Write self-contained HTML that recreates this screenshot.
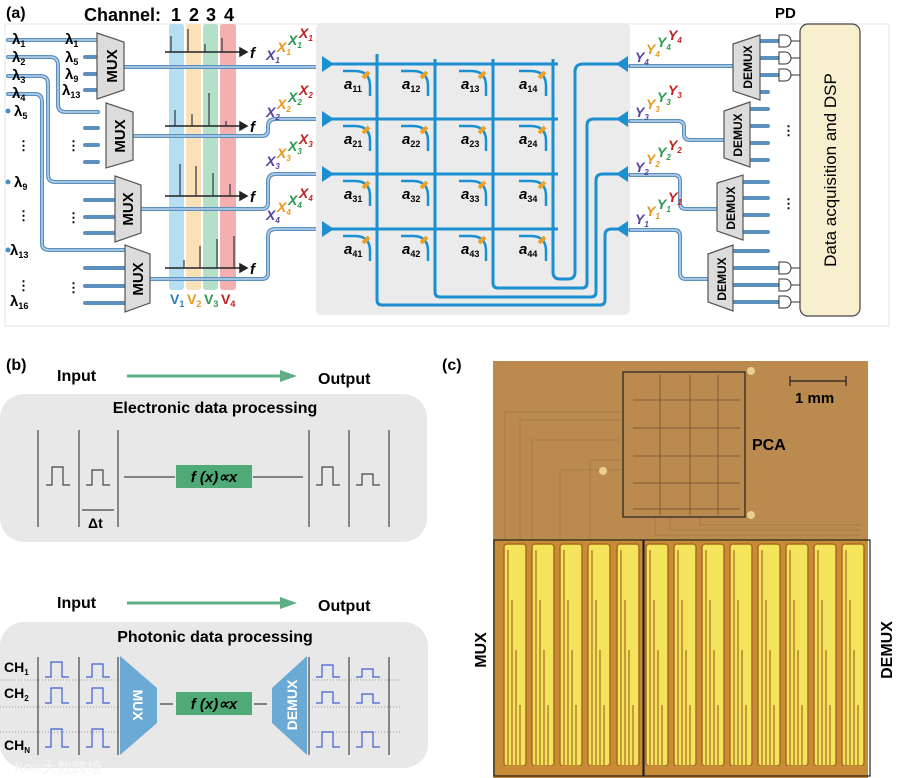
<!DOCTYPE html>
<html><head><meta charset="utf-8"><style>
body{margin:0;background:#fff}
svg{display:block;font-family:"Liberation Sans",Arial,sans-serif;font-weight:bold}
</style></head><body>
<svg width="898" height="778" viewBox="0 0 898 778" xmlns="http://www.w3.org/2000/svg">
<!-- panel a frame -->
<rect x="5" y="24" width="884" height="302" fill="#fff" stroke="#e4e4e4"/>
<text x="6" y="18" font-size="16">(a)</text>
<text x="84" y="21" font-size="18">Channel:</text>
<g font-size="18" text-anchor="middle"><text x="176" y="21">1</text><text x="194" y="21">2</text><text x="211" y="21">3</text><text x="229" y="21">4</text></g>
<text x="775" y="18" font-size="15">PD</text>
<!-- color bands -->
<rect x="169" y="24" width="15" height="266" rx="3" fill="#b5dff0"/>
<rect x="186" y="24" width="15" height="266" rx="3" fill="#fbe1b8"/>
<rect x="203" y="24" width="15" height="266" rx="3" fill="#b5e0c8"/>
<rect x="220" y="24" width="16" height="266" rx="3" fill="#f4b0b0"/>
<g font-size="14"><text x="170" y="304" fill="#2a7fc0">V<tspan font-size="9" dy="3">1</tspan></text>
<text x="187" y="304" fill="#e8961e">V<tspan font-size="9" dy="3">2</tspan></text>
<text x="204" y="304" fill="#2a9a50">V<tspan font-size="9" dy="3">3</tspan></text>
<text x="221" y="304" fill="#c02020">V<tspan font-size="9" dy="3">4</tspan></text></g>
<!-- spectra -->
<g stroke="#222" stroke-width="1.5" fill="#222">
<line x1="165" y1="52" x2="240" y2="52"/><path d="M240 48 L247 52 L240 56Z"/>
<line x1="165" y1="126" x2="240" y2="126"/><path d="M240 122 L247 126 L240 130Z"/>
<line x1="165" y1="196" x2="240" y2="196"/><path d="M240 192 L247 196 L240 200Z"/>
<line x1="165" y1="268" x2="240" y2="268"/><path d="M240 264 L247 268 L240 272Z"/>
</g>
<g stroke="#334" stroke-width="1.2">
<line x1="171" y1="52" x2="171" y2="36"/><line x1="188" y1="52" x2="188" y2="29"/><line x1="205" y1="52" x2="205" y2="44"/><line x1="222" y1="52" x2="222" y2="38"/>
<line x1="175" y1="126" x2="175" y2="110"/><line x1="192" y1="126" x2="192" y2="114"/><line x1="209" y1="126" x2="209" y2="93"/><line x1="226" y1="126" x2="226" y2="121"/>
<line x1="180" y1="196" x2="180" y2="164"/><line x1="196" y1="196" x2="196" y2="166"/><line x1="213" y1="196" x2="213" y2="173"/><line x1="230" y1="196" x2="230" y2="184"/>
<line x1="184" y1="268" x2="184" y2="260"/><line x1="200" y1="268" x2="200" y2="246"/><line x1="217" y1="268" x2="217" y2="239"/><line x1="234" y1="268" x2="234" y2="236"/>
</g>
<g font-size="15" font-style="italic"><text x="250" y="58">f</text><text x="250" y="132">f</text><text x="250" y="202">f</text><text x="250" y="274">f</text></g>

<!-- input waveguides -->
<g fill="none" stroke="#5b8fbe" stroke-width="4" stroke-linecap="round">
<path d="M8 40 H97"/>
<path d="M8 57 H50 Q58 57 58 65 V105 Q58 112 66 112 H98"/>
<path d="M8 76 H40 Q48 76 48 84 V175 Q48 182 56 182 H115"/>
<path d="M8 94 H35 Q42 94 42 102 V244 Q42 250 50 250 H125"/>
<path d="M85 57 H97 M85 74 H97 M85 90 H97"/>
<path d="M85 128 H98 M85 145 H98 M85 162 H98"/>
<path d="M85 200 H115 M85 217 H115 M85 233 H115"/>
<path d="M85 268 H125 M85 286 H125 M85 303 H125"/>
<path d="M124 67 H322"/>
<path d="M133 136 H262 Q268 136 268 130 V126 Q268 119 276 119 H322"/>
<path d="M141 209 H262 Q268 209 268 203 V182 Q268 174 276 174 H322"/>
<path d="M150 279 H262 Q268 279 268 273 V236 Q268 229 276 229 H322"/>
</g>
<g fill="none" stroke="#b9d6ee" stroke-width="1.5" stroke-linecap="round">
<path d="M8 40 H97"/><path d="M8 57 H50 Q58 57 58 65 V105 Q58 112 66 112 H98"/>
<path d="M8 76 H40 Q48 76 48 84 V175 Q48 182 56 182 H115"/><path d="M8 94 H35 Q42 94 42 102 V244 Q42 250 50 250 H125"/>
<path d="M124 67 H322"/><path d="M133 136 H262 Q268 136 268 130 V126 Q268 119 276 119 H322"/>
<path d="M141 209 H262 Q268 209 268 203 V182 Q268 174 276 174 H322"/><path d="M150 279 H262 Q268 279 268 273 V236 Q268 229 276 229 H322"/>
</g>
<g fill="#4a90c8"><circle cx="8" cy="111" r="2.5"/><circle cx="8" cy="182" r="2.5"/><circle cx="8" cy="250" r="2.5"/></g>
<g font-size="15"><text x="12" y="44">λ<tspan font-size="9" dy="3">1</tspan></text>
<text x="12" y="62">λ<tspan font-size="9" dy="3">2</tspan></text>
<text x="12" y="80">λ<tspan font-size="9" dy="3">3</tspan></text>
<text x="12" y="98">λ<tspan font-size="9" dy="3">4</tspan></text>
<text x="14" y="116">λ<tspan font-size="9" dy="3">5</tspan></text>
<text x="14" y="187">λ<tspan font-size="9" dy="3">9</tspan></text>
<text x="10" y="255">λ<tspan font-size="9" dy="3">13</tspan></text>
<text x="10" y="306">λ<tspan font-size="9" dy="3">16</tspan></text>
<text x="65" y="44">λ<tspan font-size="9" dy="3">1</tspan></text>
<text x="65" y="62">λ<tspan font-size="9" dy="3">5</tspan></text>
<text x="65" y="79">λ<tspan font-size="9" dy="3">9</tspan></text>
<text x="62" y="95">λ<tspan font-size="9" dy="3">13</tspan></text></g>
<g font-size="13"><text x="17" y="150">⋮</text><text x="17" y="220">⋮</text><text x="17" y="290">⋮</text>
<text x="67" y="150">⋮</text><text x="67" y="222">⋮</text><text x="67" y="292">⋮</text></g>
<!-- MUX -->
<g fill="#dcdcdc" stroke="#555" stroke-width="1.2">
<path d="M97 33 L124 42 L124 90 L97 99Z"/>
<path d="M106 103 L133 112 L133 160 L106 168Z"/>
<path d="M115 176 L141 185 L141 233 L115 242Z"/>
<path d="M125 245 L150 254 L150 303 L125 312Z"/>
</g>
<g font-size="15"><text transform="translate(117 66) rotate(-90)" text-anchor="middle">MUX</text>
<text transform="translate(125 136) rotate(-90)" text-anchor="middle">MUX</text>
<text transform="translate(133 209) rotate(-90)" text-anchor="middle">MUX</text>
<text transform="translate(143 279) rotate(-90)" text-anchor="middle">MUX</text></g>
<!-- X labels -->
<g font-size="14" font-style="italic">
<text x="266" y="60" fill="#5a3fa0">X<tspan font-size="8" dy="3">1</tspan></text><text x="277" y="52" fill="#e8961e">X<tspan font-size="8" dy="3">1</tspan></text><text x="288" y="45" fill="#2a9a50">X<tspan font-size="8" dy="3">1</tspan></text><text x="299" y="38" fill="#c02020">X<tspan font-size="8" dy="3">1</tspan></text>
<text x="266" y="117" fill="#5a3fa0">X<tspan font-size="8" dy="3">2</tspan></text><text x="277" y="109" fill="#e8961e">X<tspan font-size="8" dy="3">2</tspan></text><text x="288" y="102" fill="#2a9a50">X<tspan font-size="8" dy="3">2</tspan></text><text x="299" y="95" fill="#c02020">X<tspan font-size="8" dy="3">2</tspan></text>
<text x="266" y="166" fill="#5a3fa0">X<tspan font-size="8" dy="3">3</tspan></text><text x="277" y="158" fill="#e8961e">X<tspan font-size="8" dy="3">3</tspan></text><text x="288" y="151" fill="#2a9a50">X<tspan font-size="8" dy="3">3</tspan></text><text x="299" y="144" fill="#c02020">X<tspan font-size="8" dy="3">3</tspan></text>
<text x="266" y="220" fill="#5a3fa0">X<tspan font-size="8" dy="3">4</tspan></text><text x="277" y="212" fill="#e8961e">X<tspan font-size="8" dy="3">4</tspan></text><text x="288" y="205" fill="#2a9a50">X<tspan font-size="8" dy="3">4</tspan></text><text x="299" y="198" fill="#c02020">X<tspan font-size="8" dy="3">4</tspan></text>
</g>
<!-- grid box -->
<rect x="316" y="23" width="314" height="292" rx="6" fill="#ebebeb"/>
<g fill="none" stroke="#1b8fcf" stroke-width="3">
<path d="M322 64 H558 M322 119 H558 M322 174 H558 M322 229 H558"/>
<path d="M377 54 V300 Q377 305 382 305 H600 Q605 305 605 300 V235 Q605 229 612 229 H622"/>
<path d="M435 59 V292 Q435 297 440 297 H591 Q596 297 596 292 V180 Q596 174 603 174 H622"/>
<path d="M493 59 V283 Q493 288 498 288 H582 Q587 288 587 283 V125 Q587 119 594 119 H622"/>
<path d="M553 59 V272 Q553 279 560 279 H568 Q575 279 575 272 V72 Q575 64 583 64 H622"/>
</g>
<g fill="#1b8fcf">
<path d="M322 56 L334 64 L322 72Z"/><path d="M322 111 L334 119 L322 127Z"/><path d="M322 166 L334 174 L322 182Z"/><path d="M322 221 L334 229 L322 237Z"/>
<path d="M628 56 L616 64 L628 72Z"/><path d="M628 111 L616 119 L628 127Z"/><path d="M628 166 L616 174 L628 182Z"/><path d="M628 221 L616 229 L628 237Z"/>
</g>
<!-- couplers -->
<g fill="none" stroke="#1b8fcf" stroke-width="2.5">
<path d="M343 71 H355 Q370 71 370 86 V96"/><path d="M401 71 H413 Q428 71 428 86 V96"/><path d="M459 71 H471 Q486 71 486 86 V96"/><path d="M519 71 H531 Q546 71 546 86 V96"/>
<path d="M343 126 H355 Q370 126 370 141 V151"/><path d="M401 126 H413 Q428 126 428 141 V151"/><path d="M459 126 H471 Q486 126 486 141 V151"/><path d="M519 126 H531 Q546 126 546 141 V151"/>
<path d="M343 181 H355 Q370 181 370 196 V206"/><path d="M401 181 H413 Q428 181 428 196 V206"/><path d="M459 181 H471 Q486 181 486 196 V206"/><path d="M519 181 H531 Q546 181 546 196 V206"/>
<path d="M343 236 H355 Q370 236 370 251 V261"/><path d="M401 236 H413 Q428 236 428 251 V261"/><path d="M459 236 H471 Q486 236 486 251 V261"/><path d="M519 236 H531 Q546 236 546 251 V261"/>
</g>
<g stroke="#f0a020" stroke-width="4">
<path d="M363 78 L369 72"/><path d="M421 78 L427 72"/><path d="M479 78 L485 72"/><path d="M539 78 L545 72"/>
<path d="M363 133 L369 127"/><path d="M421 133 L427 127"/><path d="M479 133 L485 127"/><path d="M539 133 L545 127"/>
<path d="M363 188 L369 182"/><path d="M421 188 L427 182"/><path d="M479 188 L485 182"/><path d="M539 188 L545 182"/>
<path d="M363 243 L369 237"/><path d="M421 243 L427 237"/><path d="M479 243 L485 237"/><path d="M539 243 L545 237"/>
</g>
<g font-size="15" font-style="italic">
<text x="344" y="89">a<tspan font-size="9" dy="3" font-style="normal">11</tspan></text><text x="402" y="89">a<tspan font-size="9" dy="3" font-style="normal">12</tspan></text><text x="461" y="89">a<tspan font-size="9" dy="3" font-style="normal">13</tspan></text><text x="519" y="89">a<tspan font-size="9" dy="3" font-style="normal">14</tspan></text>
<text x="344" y="144">a<tspan font-size="9" dy="3" font-style="normal">21</tspan></text><text x="402" y="144">a<tspan font-size="9" dy="3" font-style="normal">22</tspan></text><text x="461" y="144">a<tspan font-size="9" dy="3" font-style="normal">23</tspan></text><text x="519" y="144">a<tspan font-size="9" dy="3" font-style="normal">24</tspan></text>
<text x="344" y="199">a<tspan font-size="9" dy="3" font-style="normal">31</tspan></text><text x="402" y="199">a<tspan font-size="9" dy="3" font-style="normal">32</tspan></text><text x="461" y="199">a<tspan font-size="9" dy="3" font-style="normal">33</tspan></text><text x="519" y="199">a<tspan font-size="9" dy="3" font-style="normal">34</tspan></text>
<text x="344" y="254">a<tspan font-size="9" dy="3" font-style="normal">41</tspan></text><text x="402" y="254">a<tspan font-size="9" dy="3" font-style="normal">42</tspan></text><text x="461" y="254">a<tspan font-size="9" dy="3" font-style="normal">43</tspan></text><text x="519" y="254">a<tspan font-size="9" dy="3" font-style="normal">44</tspan></text>
</g>
<!-- output waveguides -->
<g fill="none" stroke="#5b8fbe" stroke-width="4" stroke-linecap="round">
<path d="M630 66 H735"/>
<path d="M630 121 H678 Q684 121 684 127 V134 Q684 140 690 140 H724"/>
<path d="M630 175 H674 Q680 175 680 181 V203 Q680 209 686 209 H717"/>
<path d="M630 230 H674 Q680 230 680 236 V273 Q680 279 686 279 H708"/>
<path d="M760 41 H780 M760 58 H780 M760 75 H780 M760 92 H768"/>
<path d="M750 109 H768 M750 126 H768 M750 143 H768 M750 160 H768"/>
<path d="M743 182 H768 M743 198 H768 M743 215 H768 M743 232 H768"/>
<path d="M733 251 H768 M733 268 H780 M733 285 H780 M733 302 H780"/>
</g>
<g fill="none" stroke="#b9d6ee" stroke-width="1.5">
<path d="M630 66 H735"/><path d="M630 121 H678 Q684 121 684 127 V134 Q684 140 690 140 H724"/>
<path d="M630 175 H674 Q680 175 680 181 V203 Q680 209 686 209 H717"/><path d="M630 230 H674 Q680 230 680 236 V273 Q680 279 686 279 H708"/>
</g>
<g fill="#dcdcdc" stroke="#555" stroke-width="1.2">
<path d="M733 44 L760 35 L760 100 L733 91Z"/>
<path d="M724 111 L750 102 L750 167 L724 158Z"/>
<path d="M717 183 L743 175 L743 240 L717 231Z"/>
<path d="M708 254 L733 245 L733 311 L708 302Z"/>
</g>
<g font-size="12"><text transform="translate(752 67) rotate(-90)" text-anchor="middle">DEMUX</text>
<text transform="translate(742 135) rotate(-90)" text-anchor="middle">DEMUX</text>
<text transform="translate(735 208) rotate(-90)" text-anchor="middle">DEMUX</text>
<text transform="translate(726 279) rotate(-90)" text-anchor="middle">DEMUX</text></g>
<g fill="#fff" stroke="#333" stroke-width="1">
<path d="M779 35 H785 A6 6 0 0 1 785 47 H779Z"/><path d="M779 52 H785 A6 6 0 0 1 785 64 H779Z"/><path d="M779 69 H785 A6 6 0 0 1 785 81 H779Z"/>
<path d="M779 262 H785 A6 6 0 0 1 785 274 H779Z"/><path d="M779 279 H785 A6 6 0 0 1 785 291 H779Z"/><path d="M779 296 H785 A6 6 0 0 1 785 308 H779Z"/>
</g>
<g stroke="#333"><path d="M791 41 H800 M791 58 H800 M791 75 H800 M791 268 H800 M791 285 H800 M791 302 H800"/></g>
<g font-size="13"><text x="782" y="135">⋮</text><text x="782" y="208">⋮</text></g>
<rect x="800" y="24" width="60" height="292" rx="8" fill="#f8efcf" stroke="#444" stroke-width="1.2"/>
<text transform="translate(836 170) rotate(-90)" text-anchor="middle" font-size="17" font-weight="normal">Data acquisition and DSP</text>
<g font-size="14" font-style="italic">
<text x="635" y="62" fill="#5a3fa0">Y<tspan font-size="8" dy="3">4</tspan></text><text x="646" y="54" fill="#e8961e">Y<tspan font-size="8" dy="3">4</tspan></text><text x="657" y="47" fill="#2a9a50">Y<tspan font-size="8" dy="3">4</tspan></text><text x="668" y="40" fill="#c02020">Y<tspan font-size="8" dy="3">4</tspan></text>
<text x="635" y="117" fill="#5a3fa0">Y<tspan font-size="8" dy="3">3</tspan></text><text x="646" y="109" fill="#e8961e">Y<tspan font-size="8" dy="3">3</tspan></text><text x="657" y="102" fill="#2a9a50">Y<tspan font-size="8" dy="3">3</tspan></text><text x="668" y="95" fill="#c02020">Y<tspan font-size="8" dy="3">3</tspan></text>
<text x="635" y="172" fill="#5a3fa0">Y<tspan font-size="8" dy="3">2</tspan></text><text x="646" y="164" fill="#e8961e">Y<tspan font-size="8" dy="3">2</tspan></text><text x="657" y="157" fill="#2a9a50">Y<tspan font-size="8" dy="3">2</tspan></text><text x="668" y="150" fill="#c02020">Y<tspan font-size="8" dy="3">2</tspan></text>
<text x="635" y="224" fill="#5a3fa0">Y<tspan font-size="8" dy="3">1</tspan></text><text x="646" y="216" fill="#e8961e">Y<tspan font-size="8" dy="3">1</tspan></text><text x="657" y="209" fill="#2a9a50">Y<tspan font-size="8" dy="3">1</tspan></text><text x="668" y="202" fill="#c02020">Y<tspan font-size="8" dy="3">1</tspan></text>
</g>

<!-- panel b -->
<text x="6" y="370" font-size="16">(b)</text>
<text x="57" y="381" font-size="16">Input</text>
<text x="318" y="384" font-size="16">Output</text>
<path d="M127 376 H285" stroke="#5fae86" stroke-width="3"/><path d="M280 370 L297 376 L280 382Z" fill="#5fae86"/>
<rect x="0" y="394" width="427" height="148" rx="24" fill="#e8e8e8"/>
<text x="215" y="413" font-size="16" text-anchor="middle">Electronic data processing</text>
<g stroke="#444" stroke-width="1.2" fill="none">
<path d="M38 430 V527 M79 430 V527 M118 430 V527 M309 430 V527 M349 430 V527 M389 430 V527"/>
<path d="M46 485 H52 V467 H63 V485 H70"/><path d="M86 485 H92 V470 H103 V485 H110"/>
<path d="M316 485 H322 V467 H333 V485 H340"/><path d="M356 485 H362 V474 H373 V485 H380"/>
<path d="M82 510 H114"/>
<path d="M124 477 H175 M253 477 H303"/>
</g>
<text x="88" y="528" font-size="14">Δt</text>
<rect x="176" y="465" width="76" height="23" fill="#4faa78"/>
<text x="214" y="482" font-size="15" text-anchor="middle" font-style="italic">f (x)∝x</text>

<text x="57" y="608" font-size="16">Input</text>
<text x="318" y="611" font-size="16">Output</text>
<path d="M127 603 H285" stroke="#5fae86" stroke-width="3"/><path d="M280 597 L297 603 L280 609Z" fill="#5fae86"/>
<rect x="0" y="622" width="428" height="146" rx="24" fill="#e8e8e8"/>
<text x="215" y="642" font-size="16" text-anchor="middle">Photonic data processing</text>
<g stroke="#999" stroke-dasharray="1 2"><path d="M0 680 H118 M0 707 H118 M0 732 H118 M309 680 H400 M309 707 H400 M309 732 H400"/></g>
<g stroke="#444" stroke-width="1.2"><path d="M38 657 V755 M79 657 V755 M118 657 V755 M309 657 V755 M349 657 V755 M389 657 V755 M160 704 H173 M254 704 H267"/></g>
<g fill="none" stroke="#3d5fd0" stroke-width="1.2">
<path d="M45 677 H51 V662 H62 V677 H69"/><path d="M86 677 H92 V664 H103 V677 H110"/>
<path d="M45 703 H51 V688 H62 V703 H69"/><path d="M86 703 H92 V688 H103 V703 H110"/>
<path d="M45 747 H51 V729 H62 V747 H69"/><path d="M86 747 H92 V729 H103 V747 H110"/>
<path d="M316 677 H322 V665 H333 V677 H340"/><path d="M356 677 H362 V669 H373 V677 H380"/>
<path d="M316 703 H322 V692 H333 V703 H340"/><path d="M356 703 H362 V694 H373 V703 H380"/>
<path d="M316 747 H322 V732 H333 V747 H340"/><path d="M356 747 H362 V732 H373 V747 H380"/>
</g>
<g font-size="14"><text x="4" y="672">CH<tspan font-size="8" dy="3">1</tspan></text><text x="4" y="698">CH<tspan font-size="8" dy="3">2</tspan></text><text x="4" y="750">CH<tspan font-size="8" dy="3">N</tspan></text></g>
<path d="M120 656 L157 688 L157 723 L120 755Z" fill="#6aaad4"/>
<path d="M307 656 L272 688 L272 723 L307 755Z" fill="#6aaad4"/>
<text transform="translate(133 705) rotate(90)" text-anchor="middle" font-size="14" fill="#fff">MUX</text>
<text transform="translate(297 705) rotate(-90)" text-anchor="middle" font-size="14" fill="#fff">DEMUX</text>
<rect x="176" y="692" width="76" height="23" fill="#4faa78"/>
<text x="214" y="709" font-size="15" text-anchor="middle" font-style="italic">f (x)∝x</text>
<text x="14" y="773" font-size="15" fill="#f4f4f4" font-weight="normal" font-family="'Noto Sans CJK SC',sans-serif">K∞ 大数跨境</text>

<!-- panel c -->
<text x="442" y="370" font-size="16">(c)</text>
<rect x="493" y="361" width="375" height="417" fill="#ba8a4e"/>
<rect x="493" y="540" width="375" height="238" fill="#c98c36"/>
<g fill="none" stroke="#a87a45" stroke-width="1">
<path d="M505 540 V412 H620 M520 540 V420 H620 M532 540 V440 H620 M560 540 V470 H620 M590 540 V460 H620"/>
<path d="M655 517 V535 H860 M670 517 V530 H860 M700 517 V525 H860"/>
</g>
<g stroke="#5a3a20" stroke-width="1" opacity="0.6">
<path d="M633 400 H740 M633 428 H740 M633 456 H740 M633 483 H740 M633 509 H740"/>
<path d="M660 375 V515 M690 375 V515 M718 375 V515"/>
</g>
<g fill="#e8d090"><circle cx="751" cy="371" r="4"/><circle cx="603" cy="471" r="4"/><circle cx="751" cy="515" r="4"/></g>
<g fill="#f4e45c" stroke="#a86a22" stroke-width="1.5">
<rect x="504" y="544" width="22" height="222" rx="3"/><rect x="532" y="544" width="22" height="222" rx="3"/><rect x="560" y="544" width="22" height="222" rx="3"/><rect x="588" y="544" width="22" height="222" rx="3"/><rect x="617" y="544" width="22" height="222" rx="3"/>
<rect x="646" y="544" width="22" height="222" rx="3"/><rect x="674" y="544" width="22" height="222" rx="3"/><rect x="702" y="544" width="22" height="222" rx="3"/><rect x="730" y="544" width="22" height="222" rx="3"/><rect x="758" y="544" width="22" height="222" rx="3"/><rect x="786" y="544" width="22" height="222" rx="3"/><rect x="814" y="544" width="22" height="222" rx="3"/><rect x="842" y="544" width="22" height="222" rx="3"/>
</g>
<g stroke="#a86a22" stroke-width="1.2" fill="none">
<path d="M508 765 V550 M512 765 V600 M516 765 V650 M520 765 V705"/>
<path d="M536 765 V550 M540 765 V600 M544 765 V650 M548 765 V705"/>
<path d="M564 765 V550 M568 765 V600 M572 765 V650 M576 765 V705"/>
<path d="M592 765 V550 M596 765 V600 M600 765 V650 M604 765 V705"/>
<path d="M621 765 V550 M625 765 V600 M629 765 V650 M633 765 V705"/>
<path d="M650 765 V550 M654 765 V600 M658 765 V650 M662 765 V705"/>
<path d="M678 765 V550 M682 765 V600 M686 765 V650 M690 765 V705"/>
<path d="M706 765 V550 M710 765 V600 M714 765 V650 M718 765 V705"/>
<path d="M734 765 V550 M738 765 V600 M742 765 V650 M746 765 V705"/>
<path d="M762 765 V550 M766 765 V600 M770 765 V650 M774 765 V705"/>
<path d="M790 765 V550 M794 765 V600 M798 765 V650 M802 765 V705"/>
<path d="M818 765 V550 M822 765 V600 M826 765 V650 M830 765 V705"/>
<path d="M846 765 V550 M850 765 V600 M854 765 V650 M858 765 V705"/>
</g>
<rect x="493" y="766" width="375" height="12" fill="#c98c36"/>
<g fill="none" stroke="#222" stroke-width="1.2">
<rect x="623" y="372" width="122" height="145"/>
<rect x="494" y="540" width="149" height="236"/>
<rect x="644" y="540" width="226" height="236"/>
<path d="M790 376 V386 M790 381 H846 M846 376 V386"/>
</g>
<text x="795" y="403" font-size="15">1 mm</text>
<text x="752" y="450" font-size="16">PCA</text>
<text transform="translate(486 650) rotate(-90)" text-anchor="middle" font-size="16">MUX</text>
<text transform="translate(892 650) rotate(-90)" text-anchor="middle" font-size="16">DEMUX</text>
</svg>
</body></html>
